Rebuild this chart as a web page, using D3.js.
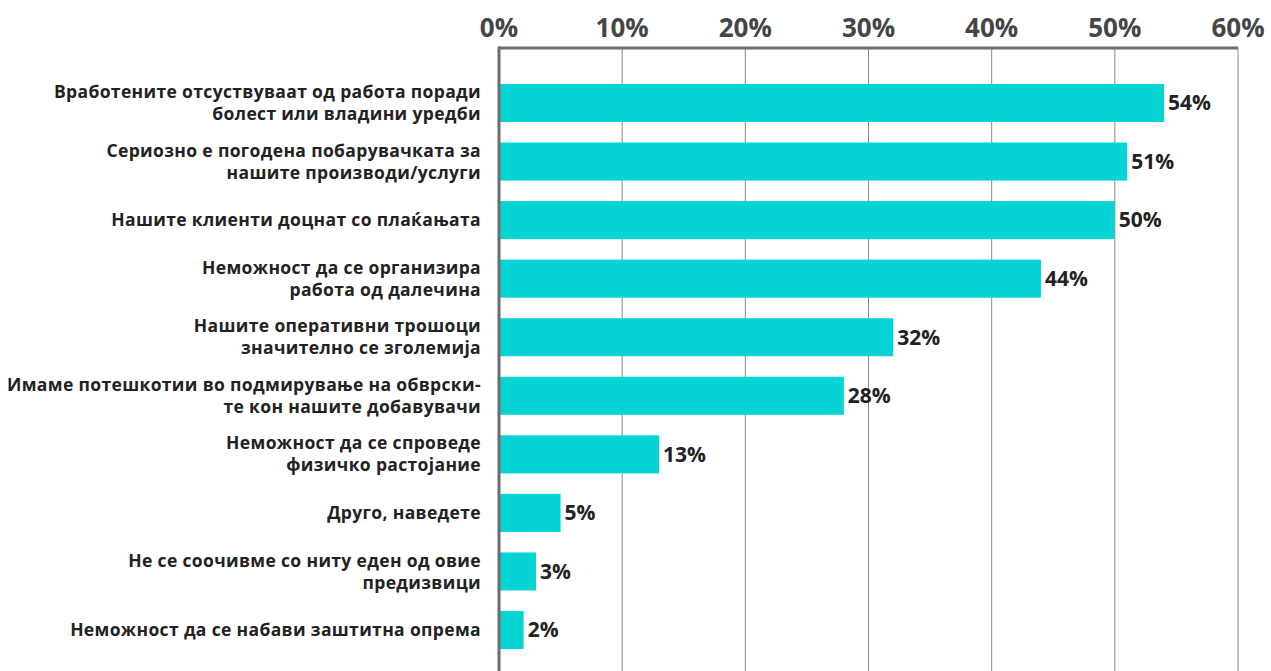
<!DOCTYPE html>
<html>
<head>
<meta charset="utf-8">
<script src="https://cdn.jsdelivr.net/npm/d3@7"></script>
<style>
  body { margin: 0; background: #fff; }
  svg text { font-family: "Open Sans", sans-serif; font-weight: 700; }
</style>
</head>
<body>
<div id="chart"></div>
<script>
const width = 1271;
const height = 671;

const categories = [
  ["Вработените отсуствуваат од работа поради", "болест или владини уредби"],
  ["Сериозно е погодена побарувачката за", "нашите производи/услуги"],
  ["Нашите клиенти доцнат со плаќањата"],
  ["Неможност да се организира", "работа од далечина"],
  ["Нашите оперативни трошоци", "значително се зголемија"],
  ["Имаме потешкотии во подмирување на обврски-", "те кон нашите добавувачи"],
  ["Неможност да се спроведе", "физичко растојание"],
  ["Друго, наведете"],
  ["Не се соочивме со ниту еден од овие", "предизвици"],
  ["Неможност да се набави заштитна опрема"]
];
const values = [54, 51, 50, 44, 32, 28, 13, 5, 3, 2];
const ticks = [0, 10, 20, 30, 40, 50, 60];

const x = d3.scaleLinear().domain([0, 60]).range([499, 1238]);
const y = d3.scaleBand()
  .domain(d3.range(values.length))
  .range([73.7, 659.3])
  .paddingInner(0.35)
  .paddingOuter(0.175);

const svg = d3.select("#chart")
  .append("svg")
  .attr("width", width)
  .attr("height", height);

const axisTop = 48;

// gridlines
svg.selectAll("line.grid")
  .data(ticks.slice(1))
  .enter()
  .append("line")
  .attr("x1", d => x(d))
  .attr("x2", d => x(d))
  .attr("y1", axisTop)
  .attr("y2", height)
  .attr("stroke", "#8a8a8c")
  .attr("stroke-width", 1);

// bars
svg.selectAll("rect.bar")
  .data(values)
  .enter()
  .append("rect")
  .attr("x", x(0))
  .attr("y", (d, i) => y(i))
  .attr("width", d => x(d) - x(0))
  .attr("height", y.bandwidth())
  .attr("fill", "#06d3d3");

// axis lines
svg.append("line")
  .attr("x1", x(0)).attr("x2", x(60))
  .attr("y1", axisTop).attr("y2", axisTop)
  .attr("stroke", "#6d6d70").attr("stroke-width", 3);
svg.append("line")
  .attr("x1", x(0)).attr("x2", x(0))
  .attr("y1", axisTop - 1.5).attr("y2", height)
  .attr("stroke", "#6d6d70").attr("stroke-width", 3);

// tick labels
svg.selectAll("text.tick")
  .data(ticks)
  .enter()
  .append("text")
  .attr("x", d => x(d))
  .attr("y", 37)
  .attr("text-anchor", "middle")
  .attr("font-size", 26)
  .attr("fill", "#454545")
  .text(d => d + "%");

// value labels
svg.selectAll("text.value")
  .data(values)
  .enter()
  .append("text")
  .attr("x", d => x(d) + 4)
  .attr("y", (d, i) => y(i) + y.bandwidth() / 2)
  .attr("dy", "0.35em")
  .attr("font-size", 21)
  .attr("fill", "#222")
  .text(d => d + "%");

// category labels
const lineH = 22;
const labels = svg.selectAll("text.cat")
  .data(categories)
  .enter()
  .append("text")
  .attr("text-anchor", "end")
  .attr("font-size", 17.5)
  .attr("letter-spacing", 0.35)
  .attr("fill", "#222");

labels.each(function (lines, i) {
  const cy = y(i) + y.bandwidth() / 2;
  const start = cy - (lines.length - 1) * lineH / 2;
  d3.select(this).selectAll("tspan")
    .data(lines)
    .enter()
    .append("tspan")
    .attr("x", 481)
    .attr("y", (d, j) => start + j * lineH)
    .attr("dy", "0.35em")
    .text(d => d);
});
</script>
</body>
</html>
